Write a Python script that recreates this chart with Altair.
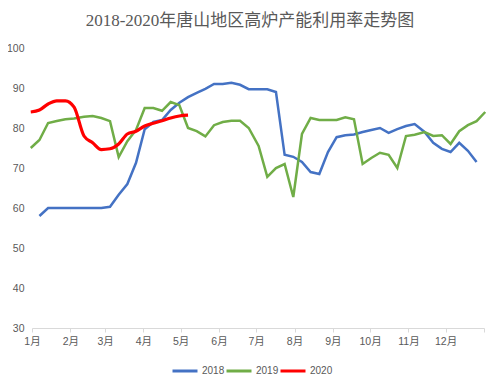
import altair as alt
import pandas as pd

# weekly sample days (day of year)
week_days = [-1, 6, 13, 20, 27, 34, 42, 49, 56, 63, 70, 77, 84, 91, 98, 105, 112, 119,
             126, 133, 140, 147, 154, 161, 168, 175, 183, 190, 197, 204, 211, 218, 225,
             232, 239, 246, 253, 260, 267, 274, 281, 288, 295, 302, 309, 317, 324, 331,
             338, 345, 352, 359, 366]

v2018 = [58, 60, 60, 60, 60, 60, 60, 60, 60.3, 63.3, 66, 71.3, 79.7, 81.5, 82, 84.5,
         86.3, 87.7, 88.8, 89.8, 91, 91, 91.3, 90.8, 89.7, 89.7, 89.7, 89, 73.3, 72.8,
         71.5, 69, 68.5, 74, 77.7, 78.2, 78.4, 79, 79.5, 80, 78.8, 79.7, 80.5, 81, 79,
         76.3, 74.8, 74, 76.3, 74.3, 71.5]
d2018 = week_days[1:52]

v2019 = [75, 77, 81.25, 81.75, 82.2, 82.4, 82.8, 83, 82.5, 81.7, 72.75, 76.7, 79.5, 85,
         85, 84.3, 86.5, 85.7, 80, 79.2, 77.9, 80.7, 81.5, 81.8, 81.8, 80, 75.5, 67.8,
         70, 71, 62.75, 78.5, 82.5, 82, 82, 82, 82.7, 82.2, 71, 72.5, 73.8, 73.3, 70,
         78, 78.3, 79, 78, 78.2, 76, 79.2, 80.7, 81.7, 84]
d2019 = week_days[:53]

v2020 = [84, 84.5, 86, 86.8, 86.8, 85.2, 78, 76.3, 74.6, 74.8, 76, 78.5, 79.2, 80.5,
         81.2, 81.8, 82.5, 83, 83.2]
d2020 = week_days[:19]

years = ["2018", "2019", "2020"]
colors = ["#4472C4", "#70AD47", "#FF0000"]

month_days = [0, 31, 59, 90, 120, 151, 181, 212, 243, 273, 304, 334, 365]
month_labels = ["1月", "2月", "3月", "4月", "5月", "6月", "7月", "8月", "9月",
                "10月", "11月", "12月", ""]

y_ticks = [30, 40, 50, 60, 70, 80, 90, 100]

rows = []
for yr, ds, vs in [("2018", d2018, v2018), ("2019", d2019, v2019), ("2020", d2020, v2020)]:
    for d, v in zip(ds, vs):
        rows.append({"day": d, "value": v, "year": yr})
df = pd.DataFrame(rows)

label_expr = "[" + ",".join("'%s'" % s for s in month_labels) + "][indexof([" + \
    ",".join(str(d) for d in month_days) + "], datum.value)]"

txt = "#595959"
font = "Liberation Sans, Noto Sans CJK SC"

x = alt.X("day:Q", scale=alt.Scale(domain=[0, 365], nice=False, zero=False),
          axis=alt.Axis(values=month_days, labelExpr=label_expr, title=None, grid=False,
                        domainColor="#d9d9d9", tickColor="#d9d9d9", tickSize=4,
                        labelColor=txt, labelFontSize=10.5, labelFont=font,
                        labelPadding=4, labelFlush=False, labelOverlap=False))
y = alt.Y("value:Q", scale=alt.Scale(domain=[30, 100], nice=False, zero=False),
          axis=alt.Axis(values=y_ticks, title=None, grid=False, domain=False, ticks=False,
                        labelColor=txt, labelFontSize=10.5, labelFont=font,
                        labelPadding=8))
color = alt.Color("year:N", scale=alt.Scale(domain=years, range=colors),
                  legend=alt.Legend(title=None, orient="none", legendX=139, legendY=309,
                                    direction="horizontal", symbolType="stroke",
                                    symbolSize=625, symbolStrokeWidth=3,
                                    labelFontSize=10, labelFont=font, labelColor=txt,
                                    labelOffset=3, columnPadding=-7, padding=0))

base = alt.Chart(df).encode(x=x, y=y, color=color, order="day:Q")

lines = base.transform_filter(alt.datum.year != "2020").mark_line(strokeWidth=2.5)
red = base.transform_filter(alt.datum.year == "2020").mark_line(strokeWidth=3.2,
                                                                  interpolate="monotone")

chart = alt.layer(lines, red).properties(
    width=452, height=280,
    padding={"left": 24, "top": 40, "right": 8, "bottom": 60},
    autosize=alt.AutoSizeParams(type="none"),
    title=alt.Title("2018-2020年唐山地区高炉产能利用率走势图",
                    font="Liberation Serif, Noto Sans CJK SC", fontSize=17,
                    fontWeight="normal", color=txt, anchor="middle", dx=-8,
                    offset=13),
    background="white",
).configure_view(stroke=None)

chart.save("out.html", embed_options={"renderer": "svg", "actions": False})
